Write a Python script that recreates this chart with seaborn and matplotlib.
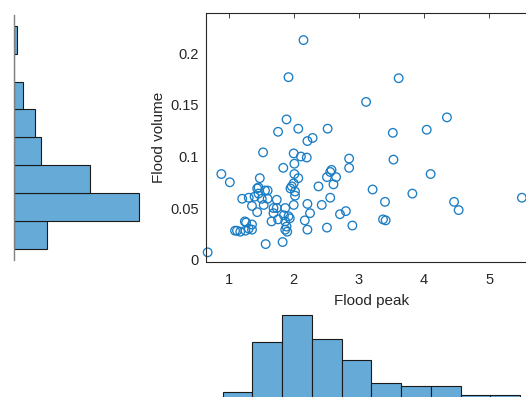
import numpy as np
import pandas as pd
import matplotlib
matplotlib.use("Agg")
import matplotlib.pyplot as plt
from matplotlib.ticker import FuncFormatter
import seaborn as sns

# Flood peak / flood volume pairs
flood_peak = [
    2.15, 1.92, 3.61, 3.11, 4.35, 1.89, 2.07, 2.52, 4.04, 1.76, 3.52, 2.29, 2.21, 1.53, 2.00,
    2.11, 2.20, 2.85, 3.53, 2.01, 1.84, 2.85, 2.58, 2.56, 0.89, 4.10, 2.01,
    2.51, 2.65, 1.48, 2.07, 1.02, 2.61, 2.00, 1.97, 2.38, 1.95, 1.44, 3.21, 1.46, 1.56, 1.60, 2.02,
    1.46, 3.82, 2.02, 1.21, 1.31, 1.40, 1.51, 1.60, 1.74, 2.56, 5.50, 3.40, 4.46,
    1.36, 1.54, 2.21, 2.00, 2.43, 1.87, 1.69, 1.74, 4.53, 1.44, 2.80, 2.25,
    2.71, 1.69, 1.85, 1.92, 3.37, 3.41, 1.94, 1.76, 1.66, 1.25, 2.17, 1.27, 1.87,
    1.36, 2.90, 2.51, 1.89, 2.21, 1.13, 1.18, 1.26, 1.31, 1.36, 1.87, 1.90, 1.10,
    1.57, 1.83, 0.68,
]
flood_volume = [
    0.213, 0.177, 0.176, 0.153, 0.138, 0.136, 0.127, 0.127, 0.126, 0.124, 0.123, 0.118, 0.115, 0.104, 0.103,
    0.100, 0.099, 0.098, 0.097, 0.093, 0.089, 0.089, 0.087, 0.085, 0.083, 0.083, 0.083,
    0.080, 0.080, 0.079, 0.079, 0.075, 0.073, 0.074, 0.071, 0.071, 0.069, 0.069, 0.068, 0.070, 0.067, 0.067, 0.066,
    0.064, 0.064, 0.062, 0.059, 0.060, 0.061, 0.059, 0.059, 0.058, 0.060, 0.060, 0.056, 0.056,
    0.052, 0.053, 0.054, 0.053, 0.053, 0.050, 0.050, 0.050, 0.048, 0.046, 0.047, 0.045,
    0.044, 0.045, 0.043, 0.042, 0.039, 0.038, 0.040, 0.039, 0.037, 0.037, 0.038, 0.036, 0.037,
    0.034, 0.033, 0.031, 0.032, 0.029, 0.028, 0.027, 0.028, 0.030, 0.029, 0.029, 0.027, 0.028,
    0.015, 0.017, 0.007,
]

# Marginal histogram counts and bin edges
peak_edges = [0.5, 1.0, 1.5, 2.0, 2.5, 3.0, 3.5, 4.0, 4.5, 5.0, 5.5]
peak_counts = [2, 19, 28, 20, 13, 5, 4, 4, 1, 1]
volume_edges = [0.0, 0.03, 0.06, 0.09, 0.12, 0.15, 0.18, 0.21, 0.24]
volume_counts = [11, 41, 25, 9, 7, 3, 0, 1]

x_ticks = [1, 2, 3, 4, 5]
y_ticks = [0, 0.05, 0.1, 0.15, 0.2]

sns.set_theme(style="white")
plt.rcParams["font.family"] = ["Liberation Sans", "DejaVu Sans"]

INK = "#262626"
BLUE = "#1a7dc4"
BAR = "#66AAD7"

W, H = 526, 397
fig = plt.figure(figsize=(W / 100, H / 100), dpi=100)


def px_axes(left, top, right, bottom):
    return fig.add_axes([left / W, (H - bottom) / H, (right - left) / W, (bottom - top) / H])


# main scatter panel
ax = px_axes(205.5, 13.3, 538, 261.5)
df = pd.DataFrame({"Flood peak": flood_peak, "Flood volume": flood_volume})
sns.scatterplot(data=df, x="Flood peak", y="Flood volume", ax=ax,
                marker="o", s=38, facecolors="none", edgecolor=BLUE,
                linewidth=0.95, clip_on=False)
ax.set_xlim(0.647, 5.747)
ax.set_ylim(-0.0019, 0.239)
ax.set_xticks(x_ticks)
ax.set_yticks(y_ticks)
ax.yaxis.set_major_formatter(FuncFormatter(lambda v, p: f"{v:g}"))
ax.tick_params(direction="in", top=True, right=True, length=3.5, width=0.6,
               colors=INK, labelsize=10.5, pad=5)
ax.tick_params(axis="x", pad=8.5)
for s in ax.spines.values():
    s.set_color(INK)
    s.set_linewidth(0.8)
ax.set_xlabel("Flood peak", fontsize=11, color=INK, labelpad=5)
ax.set_ylabel("Flood volume", fontsize=11, color=INK, labelpad=2.5)

# left marginal histogram (horizontal bars)
ax_l = px_axes(13.7, 15, 163.7, 260)
vcent = [(a + b) / 2 for a, b in zip(volume_edges[:-1], volume_edges[1:])]
sns.histplot(y=vcent, weights=volume_counts, bins=volume_edges, ax=ax_l,
             color=BAR, edgecolor="#1a1a1a", linewidth=0.8, alpha=1)
ax_l.set_ylim(-0.01182, 0.2515)
ax_l.set_xlim(0, 150 / 3.06)
ax_l.patch.set_visible(False)
for k, s in ax_l.spines.items():
    s.set_visible(k == "left")
ax_l.spines["left"].set_color("#808080")
ax_l.spines["left"].set_linewidth(1.0)
ax_l.set_xticks([]); ax_l.set_yticks([])
ax_l.set_xlabel(""); ax_l.set_ylabel("")

# bottom marginal histogram
ax_b = px_axes(205.5, 298.3, 538, 398.3)
pcent = [(a + b) / 2 for a, b in zip(peak_edges[:-1], peak_edges[1:])]
sns.histplot(x=pcent, weights=peak_counts, bins=peak_edges, ax=ax_b,
             color=BAR, edgecolor="#1a1a1a", linewidth=0.8, alpha=1)
ax_b.set_xlim(0.2107, 5.803)
ax_b.set_ylim(0, 100 / 2.963)
ax_b.patch.set_visible(False)
for k, s in ax_b.spines.items():
    s.set_visible(k == "bottom")
ax_b.spines["bottom"].set_color("#808080")
ax_b.set_xticks([]); ax_b.set_yticks([])
ax_b.set_xlabel(""); ax_b.set_ylabel("")

ax.set_zorder(3)
fig.savefig("out.png", dpi=100)
